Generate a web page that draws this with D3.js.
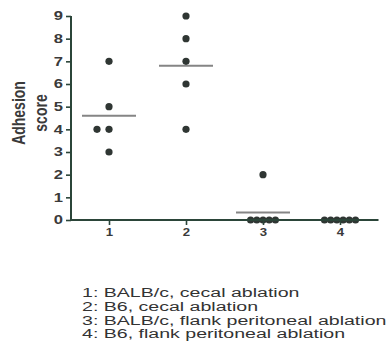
<!DOCTYPE html>
<html lang="en">
<head>
<meta charset="utf-8">
<script src="https://cdn.jsdelivr.net/npm/d3@7"></script>
<style>
  body { margin: 0; background: #fff; }
  svg { display: block; }
  text { font-family: "Liberation Sans", Arial, sans-serif; }
</style>
</head>
<body>
<div id="chart"></div>
<script>
// adhesion scores per group
var groups = [1, 2, 3, 4];
var group1 = [7, 5, 4, 4, 3];
var group2 = [9, 8, 7, 6, 4];
var group3 = [2, 0, 0, 0, 0, 0];
var group4 = [0, 0, 0, 0, 0, 0];
var yTicks = [0, 1, 2, 3, 4, 5, 6, 7, 8, 9];
var legendLines = [
  "1: BALB/c, cecal ablation",
  "2: B6, cecal ablation",
  "3: BALB/c, flank peritoneal ablation",
  "4: B6, flank peritoneal ablation"
];

var series = [group1, group2, group3, group4];
var width = 392, height = 356;
var axisColor = "#2b4539", dotColor = "#2f3633", textColor = "#3a3a3a";
var sx = 1.38; // glyphs in the picture are wide

var svg = d3.select("#chart").append("svg")
  .attr("width", width)
  .attr("height", height);

var x = d3.scaleLinear().domain([0.5, 4.5]).range([70.5, 378.5]);
var y = d3.scaleLinear().domain([0, 9]).range([220, 16]);

// points, spread sideways where values repeat
series.forEach(function (vals, gi) {
  var counts = {};
  vals.forEach(function (v) { counts[v] = (counts[v] || 0) + 1; });
  var seen = {};
  var pts = vals.map(function (v) {
    var k = counts[v];
    var i = seen[v] = (seen[v] === undefined ? 0 : seen[v] + 1);
    var dx = k > 2 ? (i - (k - 1) / 2) * 6.2 : (i - (k - 1)) * 12;
    return { g: groups[gi], v: v, dx: dx };
  });
  var mean = d3.mean(vals);
  svg.append("line")
    .attr("x1", x(groups[gi]) - 27).attr("x2", x(groups[gi]) + 27)
    .attr("y1", y(mean)).attr("y2", y(mean))
    .attr("stroke", "#858585").attr("stroke-width", 2);
  svg.append("g").selectAll("circle")
    .data(pts)
    .enter().append("circle")
    .attr("cx", function (d) { return x(d.g) + d.dx; })
    .attr("cy", function (d) { return y(d.v); })
    .attr("r", 3.6)
    .attr("fill", dotColor);
});

// y axis
var yAxis = svg.append("g")
  .attr("transform", "translate(71,0)")
  .call(d3.axisLeft(y).tickValues(yTicks).tickSize(5).tickPadding(3));
// x axis
var xAxis = svg.append("g")
  .attr("transform", "translate(0,220)")
  .call(d3.axisBottom(x).tickValues(groups).tickFormat(d3.format("d")).tickSize(5).tickPadding(3));

[yAxis, xAxis].forEach(function (ax) {
  ax.select(".domain").attr("stroke", axisColor).attr("stroke-width", 2);
  ax.selectAll(".tick line").attr("stroke", axisColor).attr("stroke-width", 1.6);
  ax.selectAll(".tick text")
    .attr("fill", textColor)
    .style("font-size", "12px")
    .style("font-weight", "bold")
    .style("font-family", "'Liberation Sans', Arial, sans-serif");
});
yAxis.select(".domain").attr("d", "M0," + y(9) + "V" + y(0));
xAxis.select(".domain").attr("d", "M70.5,0H378.5");
yAxis.selectAll(".tick text").attr("transform", "scale(" + sx + ",1)").attr("x", -8 / sx);
xAxis.selectAll(".tick text").attr("transform", "scale(1.2,1)").attr("x", 0)
  .style("font-size", "11px");

// y title, two lines, rotated
[["Adhesion", 25], ["score", 47]].forEach(function (t) {
  svg.append("text")
    .attr("transform", "translate(" + t[1] + ",113) rotate(-90) scale(1,1.3)")
    .attr("text-anchor", "middle")
    .attr("fill", textColor)
    .style("font-size", "14px")
    .style("font-weight", "bold")
    .text(t[0]);
});

// legend
svg.append("g").selectAll("text")
  .data(legendLines)
  .enter().append("text")
  .attr("transform", function (d, i) { return "translate(82," + (297 + i * 13.8) + ") scale(1.45,1)"; })
  .attr("fill", "#333")
  .style("font-size", "13.5px")
  .text(function (d) { return d; });
</script>
</body>
</html>
